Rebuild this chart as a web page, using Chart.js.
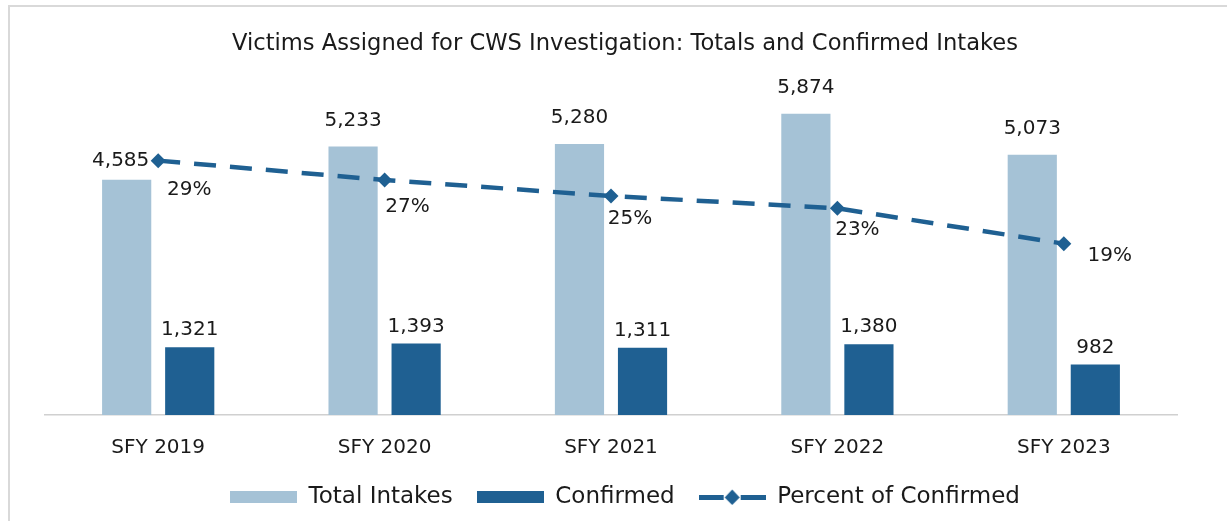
<!DOCTYPE html>
<html>
<head>
<meta charset="utf-8">
<script src="https://cdn.jsdelivr.net/npm/chart.js@4.4.0/dist/chart.umd.min.js"></script>
<style>
    html, body { margin: 0; padding: 0; background: #fff; overflow: hidden; }
    #frame { position: absolute; left: 8px; top: 5px; width: 1236px; height: 526px; border: 2px solid #d9d9d9; }
    #chart { display: block; }
</style>
</head>
<body>
<div id="frame"><canvas id="chart" width="1236" height="526"></canvas></div>
<script>
const categories = ['SFY 2019', 'SFY 2020', 'SFY 2021', 'SFY 2022', 'SFY 2023'];
const totalIntakes = [4585, 5233, 5280, 5874, 5073];
const confirmed = [1321, 1393, 1311, 1380, 982];
const percentConfirmed = [28.8, 26.6, 24.8, 23.4, 19.4];

const LIGHT = '#a5c2d6';
const DARK = '#1f6092';
const TEXT = '#1a1a1a';
const FONT = "'DejaVu Sans', sans-serif";

// legend swatches drawn onto small canvases
function swatch(color) {
    const c = document.createElement('canvas');
    c.width = 67; c.height = 12;
    const g = c.getContext('2d');
    g.fillStyle = color;
    g.fillRect(0, 0, 67, 12);
    return c;
}

function lineSwatch() {
    const c = document.createElement('canvas');
    c.width = 67; c.height = 18;
    const g = c.getContext('2d');
    g.fillStyle = DARK;
    g.fillRect(0, 7, 25, 5);
    g.fillRect(42, 7, 25, 5);
    g.beginPath();
    g.moveTo(33.5, 1.5); g.lineTo(41, 9.5); g.lineTo(33.5, 17); g.lineTo(26, 9.5);
    g.closePath();
    g.fill();
    return c;
}

const legendIcons = [swatch(LIGHT), swatch(DARK), lineSwatch()];

// value labels, placed relative to each drawn element
const valueLabels = {
    id: 'valueLabels',
    afterDatasetsDraw(chart) {
        const ctx = chart.ctx;
        ctx.save();
        ctx.font = `20px ${FONT}`;
        ctx.fillStyle = TEXT;
        ctx.textAlign = 'center';
        ctx.textBaseline = 'middle';

        const totalMeta = chart.getDatasetMeta(0);
        totalMeta.data.forEach((el, i) => {
            const shift = i === 0 ? [-6, 19] : [0, 26];
            ctx.fillText(totalIntakes[i].toLocaleString('en-US'), el.x + shift[0], el.y - shift[1]);
        });

        const confMeta = chart.getDatasetMeta(1);
        confMeta.data.forEach((el, i) => {
            ctx.fillText(confirmed[i].toLocaleString('en-US'), el.x, el.y - 17);
        });

        const pctShift = [[31, 29], [23, 27], [19, 23], [20, 21], [46, 12]];
        const pctMeta = chart.getDatasetMeta(2);
        pctMeta.data.forEach((el, i) => {
            ctx.fillText(Math.round(percentConfirmed[i]) + '%', el.x + pctShift[i][0], el.y + pctShift[i][1]);
        });
        ctx.restore();
    }
};

new Chart(document.getElementById('chart'), {
    data: {
        labels: categories,
        datasets: [
            {
                type: 'bar', label: 'Total Intakes', data: totalIntakes,
                backgroundColor: LIGHT, yAxisID: 'y', order: 2,
                categoryPercentage: 0.557, barPercentage: 0.78
            },
            {
                type: 'bar', label: 'Confirmed', data: confirmed,
                backgroundColor: DARK, yAxisID: 'y', order: 2,
                categoryPercentage: 0.557, barPercentage: 0.78
            },
            {
                type: 'line', label: 'Percent of Confirmed', data: percentConfirmed,
                yAxisID: 'y1', order: 1,
                borderColor: DARK, backgroundColor: DARK,
                borderWidth: 4.5, borderDash: [22, 14], borderCapStyle: 'butt',
                pointStyle: 'rectRot', pointRadius: 7.5, pointBorderWidth: 0,
                tension: 0
            }
        ]
    },
    options: {
        responsive: false,
        animation: false,
        layout: { padding: { top: 10, left: 0, right: 6, bottom: 14.5 } },
        plugins: {
            title: {
                display: true,
                text: 'Victims Assigned for CWS Investigation: Totals and Confirmed Intakes',
                color: TEXT,
                font: { family: FONT, size: 22.6, weight: 'normal' },
                padding: { top: 14, bottom: 8 }
            },
            legend: {
                position: 'bottom',
                labels: {
                    usePointStyle: true,
                    pointStyleWidth: 67,
                    padding: 24,
                    color: TEXT,
                    font: { family: FONT, size: 23 },
                    sort: (a, b) => a.datasetIndex - b.datasetIndex,
                    generateLabels: chart => Chart.defaults.plugins.legend.labels.generateLabels(chart)
                        .map(item => ({ ...item, pointStyle: legendIcons[item.datasetIndex] }))
                }
            },
            tooltip: { enabled: false }
        },
        scales: {
            x: {
                grid: { display: false },
                border: { display: true, color: '#d0d0d0', width: 1.5 },
                ticks: { color: TEXT, padding: 13, font: { family: FONT, size: 20 } },
                afterFit: s => { s.height = 46.5; }
            },
            y: {
                position: 'left', min: 0, max: 6800,
                grid: { display: false, drawTicks: false },
                border: { display: false },
                ticks: { display: false },
                afterFit: s => { s.width = 35; }
            },
            y1: {
                position: 'right', min: 0, max: 39.5,
                grid: { display: false, drawTicks: false },
                border: { display: false },
                ticks: { display: false },
                afterFit: s => { s.width = 63; }
            }
        }
    },
    plugins: [valueLabels]
});
</script>
</body>
</html>
